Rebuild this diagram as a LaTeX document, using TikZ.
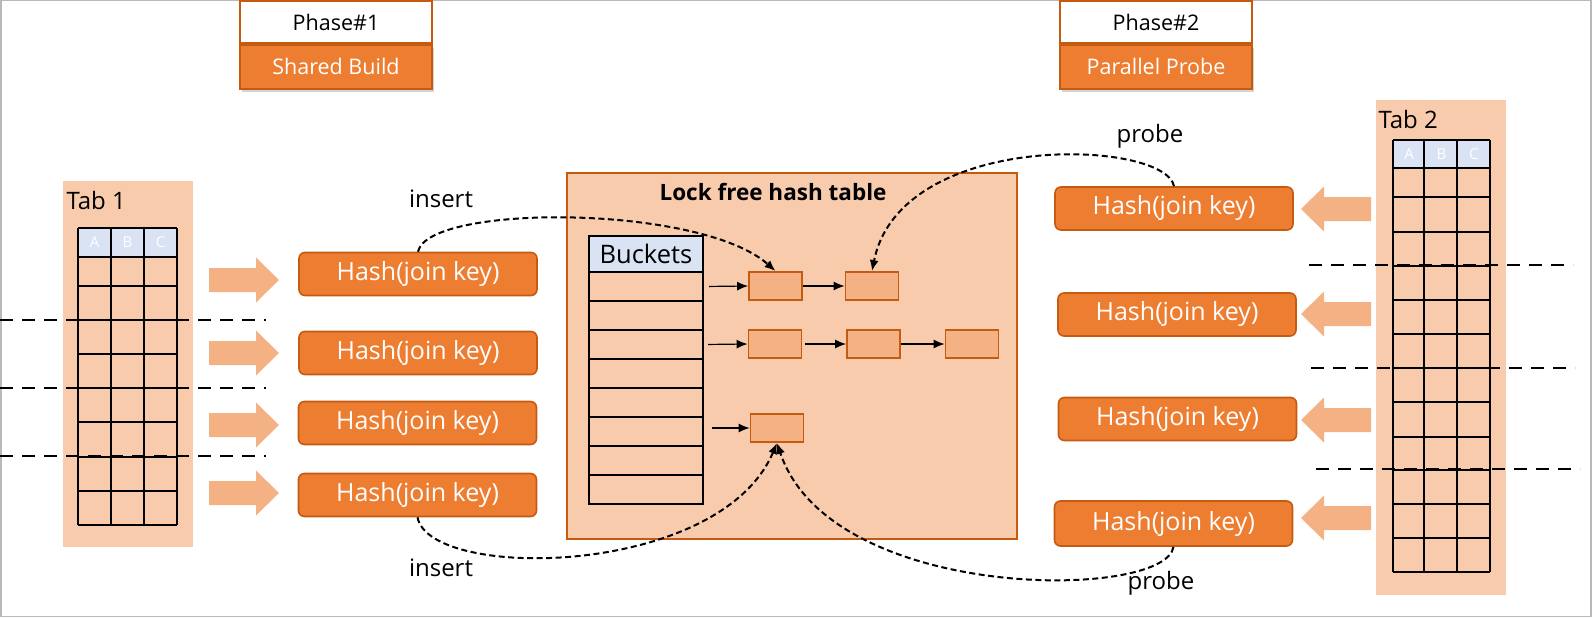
\documentclass[tikz,border=0pt]{standalone}
\usepackage{fontspec}
\setmainfont{Open Sans}
\usepackage{tikz}
\usetikzlibrary{positioning,shadows,arrows.meta}

\definecolor{accent}{HTML}{ED7D31}
\definecolor{accentdark}{HTML}{C55A11}
\definecolor{peach}{HTML}{F8CBAD}
\definecolor{salmon}{HTML}{F4B183}
\definecolor{hdrblue}{HTML}{DAE3F3}

\begin{document}
\begin{tikzpicture}[x=1pt,y=-1pt,>={Latex[length=11pt,width=9pt]},
  hashbox/.style={rounded corners=6pt,fill=accent,draw=accentdark,line width=1.6pt,
    text=white,minimum width=238pt,minimum height=43pt,inner sep=0pt,
    font=\fontsize{25}{28}\selectfont},
  phasetop/.style={draw=accentdark,line width=1.8pt,fill=white,minimum width=192pt,
    minimum height=42pt,inner sep=0pt,font=\fontsize{21.5}{24}\selectfont},
  phasebot/.style={draw=accentdark,line width=1.8pt,fill=accent,text=white,
    minimum width=192pt,minimum height=44pt,inner sep=0pt,
    font=\fontsize{21.5}{24}\selectfont,
    drop shadow={opacity=0.35,shadow xshift=2pt,shadow yshift=-3pt}},
  entry/.style={draw=accentdark,line width=1.8pt,fill=salmon,minimum width=53pt,
    minimum height=28pt,inner sep=0pt},
  bucketcell/.style={draw,line width=2.2pt,fill=peach,minimum width=114pt,
    minimum height=29pt,inner sep=0pt},
  cut/.style={dashed,dash pattern=on 13pt off 9pt,line width=2.6pt},
  flow/.style={->,dashed,dash pattern=on 6pt off 3.5pt,line width=2pt},
  label/.style={font=\fontsize{24}{28}\selectfont},
  hdr/.style={text=white,font=\fontsize{15}{17}\selectfont,inner sep=0pt}]
\useasboundingbox (0,0) rectangle (1592,618);
\draw[gray!55,line width=1.5pt] (0.75,0.75) rectangle (1591,616.5);

% phase boxes
\node[phasetop] (p1) at (336,22) {Phase\#1};
\node[phasebot,below=0pt of p1] (p1b) {Shared Build};
\node[phasetop] (p2) at (1156,22) {Phase\#2};
\node[phasebot,below=0pt of p2] (p2b) {Parallel Probe};

% Tab 1
\fill[peach] (63,181) rectangle (193,547);
\node[label,anchor=west] (t1) at (63,200) {Tab 1};
\fill[hdrblue] (78,228) rectangle (177,257);
\foreach \y in {228,257,286,320,354,388,422,457,491,525}
  \draw[line width=2.2pt] (78,\y) -- (177,\y);
\foreach \x in {78,111,144,177}
  \draw[line width=2.2pt] (\x,228) -- (\x,525);
\foreach \c [count=\i] in {A,B,C}
  \node[hdr] (ha\c) at ({78+33*(\i-0.5)},242.5) {\c};
\foreach \y in {320,388,456}
  \draw[cut] (0,\y) -- (266,\y);

% Tab 2
\fill[peach] (1376,100) rectangle (1506,595);
\node[label,anchor=west] (t2) at (1375,119) {Tab 2};
\fill[hdrblue] (1393,140) rectangle (1490,168);
\foreach \y in {140,168,197,232,266,300,334,368,402,437,470,504,538,572}
  \draw[line width=2.2pt] (1393,\y) -- (1490,\y);
\foreach \x in {1393,1424,1457,1490}
  \draw[line width=2.2pt] (\x,140) -- (\x,572);
\foreach \c [count=\i] in {A,B,C}
  \node[hdr] (hb\c) at ({1393+32.3*(\i-0.5)},154) {\c};
\draw[cut] (1309,265) -- (1573,265);
\draw[cut] (1311,368) -- (1575,368);
\draw[cut] (1316,469) -- (1580,469);

% block arrows
\foreach \y in {280,353,425,493}
  \fill[salmon] (209,\y-12) -- (256,\y-12) -- (256,\y-22.5) -- (279,\y)
    -- (256,\y+22.5) -- (256,\y+12) -- (209,\y+12) -- cycle;
\foreach \y in {209,314,420,518}
  \fill[salmon] (1371,\y-12) -- (1324,\y-12) -- (1324,\y-22.5) -- (1301,\y)
    -- (1324,\y+22.5) -- (1324,\y+12) -- (1371,\y+12) -- cycle;

% lock free hash table
\draw[accentdark,fill=peach,line width=2pt] (567,173) rectangle (1017,539);
\node[font=\fontsize{22.5}{26}\selectfont\bfseries] (title) at (773,192) {Lock free hash table};
\node[bucketcell,fill=hdrblue,minimum height=36pt,font=\fontsize{25.5}{28}\selectfont] (b0) at (646,254) {Buckets};
\foreach \i in {1,...,8}
  \node[bucketcell] (b\i) at (646,{272+29*(\i-0.5)}) {};

\node[entry] (e11) at (775.5,286) {};
\node[entry] (e12) at (872,286) {};
\node[entry] (e21) at (775,344) {};
\node[entry] (e22) at (873.5,344) {};
\node[entry] (e23) at (972,344) {};
\node[entry] (e31) at (777,428) {};

\draw[->,line width=1.2pt,shorten <=5pt] (b1.east) -- (e11.west);
\draw[->,line width=1.2pt] (e11) -- (e12);
\draw[->,line width=1.2pt,shorten <=4pt] (b3.east) -- (e21.west);
\draw[->,line width=1.2pt,shorten <=3pt] (e21) -- (e22);
\draw[->,line width=1.2pt] (e22) -- (e23);
\draw[->,line width=1.2pt,shorten <=8pt] (b6.east |- e31.west) -- (e31.west);

% hash boxes
\node[hashbox] (hl1) at (418,274) {Hash(join key)};
\node[hashbox] (hl2) at (418,353) {Hash(join key)};
\node[hashbox] (hl3) at (417.5,423) {Hash(join key)};
\node[hashbox] (hl4) at (417.5,495) {Hash(join key)};
\node[hashbox] (hr1) at (1174,208.5) {Hash(join key)};
\node[hashbox] (hr2) at (1177,314.5) {Hash(join key)};
\node[hashbox] (hr3) at (1177.5,419) {Hash(join key)};
\node[hashbox,minimum height=45pt] (hr4) at (1173.5,523.5) {Hash(join key)};

% insert / probe
\draw[flow] (hl1.north) .. controls +(10,-48) and +(-75,-67) .. (e11.north);
\draw[flow] (hr1.north) .. controls +(-9,-47) and +(28,-142) .. (e12.north);
\draw[flow] (hl4.south) .. controls +(12,64) and +(-57,135) .. (e31.south);
\draw[flow] (hr4.south) .. controls +(-8,54) and +(53,160) .. (e31.south);

\node[label] (ins1) at (441,199) {insert};
\node[label] (ins2) at (441,568) {insert};
\node[label] (prb1) at (1150,136) {probe};
\node[label] (prb2) at (1161,583) {probe};
\end{tikzpicture}
\end{document}
